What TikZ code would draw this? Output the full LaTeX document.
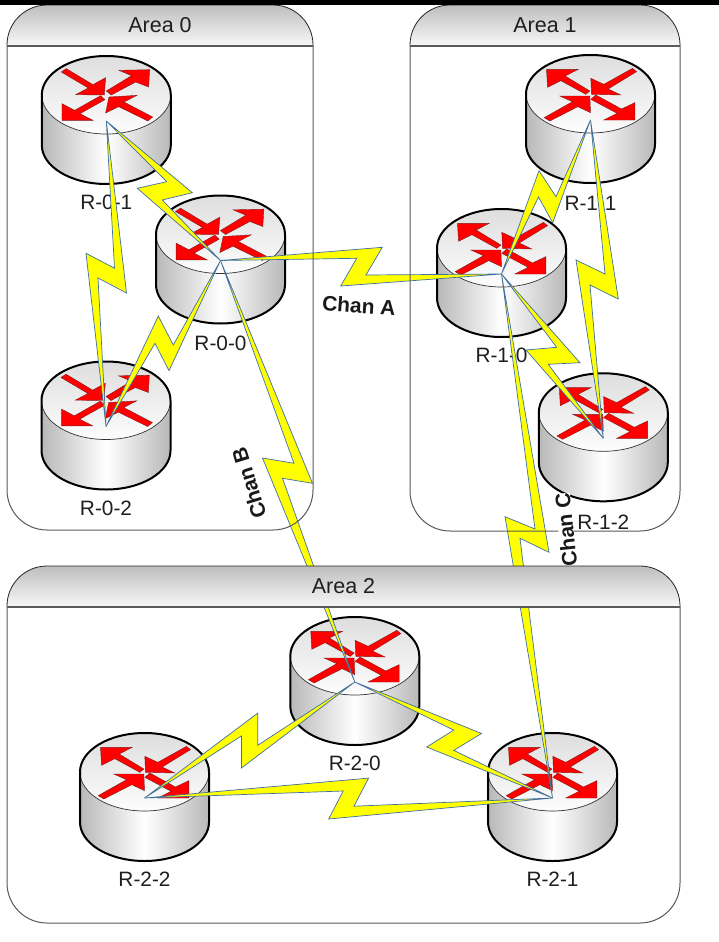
\documentclass[tikz,border=0pt]{standalone}
\usepackage{fontspec}
\setmainfont{Liberation Sans}
\definecolor{sidegray}{HTML}{B8B8B8}
\definecolor{topgray}{HTML}{DEDEDE}
\definecolor{toplight}{HTML}{FDFDFD}
\definecolor{headgray}{HTML}{BEBEBE}
\definecolor{headlight}{HTML}{F8F8F8}
\definecolor{panelline}{HTML}{5A5A5A}
\definecolor{boltline}{HTML}{3F6FA5}
\definecolor{boltfill}{HTML}{FFFF00}
\definecolor{arrowred}{HTML}{FF0000}
\definecolor{arrowline}{HTML}{7A2020}
\tikzset{
  bolt/.style={draw=boltline,fill=boltfill,line width=0.7pt,line join=miter},
  routerarrow/.style={draw=arrowline,fill=arrowred,line width=0.4pt},
  routerlabel/.style={font=\fontsize{20.8}{24}\selectfont,text=black!88,inner sep=0pt},
  panellabel/.style={font=\fontsize{21.5}{24}\selectfont,text=black!88,inner sep=0pt},
  chanlabel/.style={font=\bfseries\fontsize{21}{24}\selectfont,text=black!90,inner sep=0pt}
}
\newcommand{\arrowsA}{%
  \begin{scope}[x=.3333pt,y=-.3333pt,shift={(-320,-362)}]
    \draw[routerarrow] (200,205)--(280,253)--(318,232)--(314,284)--(228,283)--(266,263)--(185,215)--cycle;
    \draw[routerarrow] (320,272)--(396,226)--(358,210)--(450,208)--(447,260)--(408,245)--(335,284)--cycle;
    \draw[routerarrow] (303,286)--(225,330)--(187,310)--(187,360)--(280,360)--(241,340)--(316,298)--cycle;
    \draw[routerarrow] (459,350)--(373,305)--(412,285)--(328,290)--(318,338)--(357,319)--(445,362)--cycle;
  \end{scope}}
\newcommand{\arrowsB}{%
  \begin{scope}[x=.3333pt,y=-.3333pt,shift={(-332,-240)}]
    \draw[routerarrow] (330,153)--(256,108)--(295,88)--(200,88)--(203,142)--(243,122)--(318,163)--cycle;
    \draw[routerarrow] (458,85)--(372,133)--(333,115)--(335,163)--(423,165)--(385,147)--(470,95)--cycle;
    \draw[routerarrow] (193,233)--(278,185)--(240,168)--(330,168)--(332,218)--(294,200)--(210,243)--cycle;
    \draw[routerarrow] (348,165)--(425,207)--(465,188)--(465,240)--(372,240)--(412,220)--(333,178)--cycle;
  \end{scope}}
\newcommand{\routerdrum}[6]{%
  \coordinate (#1) at (#2,#3);
  \begin{scope}[shift={(#1)}]
    \shade[left color=sidegray,right color=sidegray,middle color=white]
      (-64.5,-26) -- (-64.5,24) arc[start angle=180,end angle=360,x radius=64.5pt,y radius=39pt]
      -- (64.5,-26) arc[start angle=0,end angle=180,x radius=64.5pt,y radius=39pt] -- cycle;
    \draw[draw=black!80,line width=0.7pt,top color=topgray,bottom color=toplight]
      (0,-26) ellipse[x radius=64.5pt,y radius=39pt];
    \draw[line width=2pt]
      (-64.5,-26) -- (-64.5,24) arc[start angle=180,end angle=360,x radius=64.5pt,y radius=39pt]
      -- (64.5,-26) arc[start angle=0,end angle=180,x radius=64.5pt,y radius=39pt] -- cycle;
    #6
    \node[routerlabel] (#1label) at (0,#5) {#4};
  \end{scope}}
\newcommand{\areapanel}[7]{%
  \pgfmathsetmacro{\xa}{#2+40}\pgfmathsetmacro{\xb}{#3-40}
  \pgfmathsetmacro{\ya}{#4+40}\pgfmathsetmacro{\yb}{#6-40}
  \pgfmathsetmacro{\xm}{(#2+#3)/2}\pgfmathsetmacro{\ym}{(#4+#5)/2}
  \shade[top color=headgray,bottom color=headlight]
    (#2,#5) -- (#2,\ya) arc[start angle=180,end angle=90,radius=40pt]
    -- (\xb,#4) arc[start angle=90,end angle=0,radius=40pt] -- (#3,#5) -- cycle;
  \draw[line width=0.8pt,black!85]
    (#2,\ya) arc[start angle=180,end angle=90,radius=40pt]
    -- (\xb,#4) arc[start angle=90,end angle=0,radius=40pt];
  \draw[line width=1.2pt,panelline] (#2,#5) -- (#3,#5);
  \draw[line width=1pt,panelline] (#2,\ya) -- (#2,\yb)
    arc[start angle=180,end angle=270,radius=40pt] -- (\xb,#6)
    arc[start angle=270,end angle=360,radius=40pt] -- (#3,\ya);
  \node[panellabel] (#1) at (\xm,\ym) {#7};}
\begin{document}
\begin{tikzpicture}[x=1pt,y=-1pt]
\useasboundingbox (0,0) rectangle (719,942);
\fill[white] (0,0) rectangle (719,942);

\routerdrum{r01}{106.3}{121}{R-0-1}{81}{\arrowsA}
\routerdrum{r00}{220.5}{260.5}{R-0-0}{82.5}{\arrowsA}
\routerdrum{r02}{106}{426.5}{R-0-2}{81.5}{\arrowsA}
\routerdrum{r11}{590.5}{120}{R-1-1}{83}{\arrowsB}
\routerdrum{r10}{501.5}{274}{R-1-0}{81}{\arrowsB}
\routerdrum{r12}{603.3}{438.3}{R-1-2}{84}{\arrowsB}
\routerdrum{r20}{354.8}{682}{R-2-0}{81}{\arrowsB}
\routerdrum{r22}{144.5}{798}{R-2-2}{81}{\arrowsB}
\routerdrum{r21}{552.5}{798}{R-2-1}{81}{\arrowsB}

\draw[bolt] (r01)--(192.3,192.7)--(162.3,200)--(r00)--(137.3,188.3)--(166.7,181.7)--cycle;
\draw[bolt] (r01)--(126.5,293)--(98,278)--(r02)--(86,253.3)--(114.5,268.2)--cycle;
\draw[bolt] (r00)--(169,370.7)--(155,343.3)--(r02)--(158.3,316)--(173.3,345)--cycle;
\draw[bolt] (r00)--(356.7,258.3)--(340.7,286)--(r10)--(366,275)--(382.3,247.3)--cycle;
\draw[bolt] (r00)--(312.5,483.3)--(282.5,478.3)--(r20)--(262.5,458)--(294,463.3)--cycle;
\draw[bolt] (r11)--(556,196.7)--(539,170.7)--(r10)--(538.5,197)--(552.7,222.7)--cycle;
\draw[bolt] (r11)--(618.3,299)--(590,285)--(r12)--(576,260)--(605,274)--cycle;
\draw[bolt] (r10)--(580,362.7)--(548.3,364.3)--(r12)--(526,350)--(556.7,347.3)--cycle;
\draw[bolt] (r10)--(549,552.3)--(520,538.3)--(r21)--(505,516.7)--(535,529)--cycle;
\draw[bolt] (r20)--(241.5,768)--(241.5,735.9)--(r22)--(257.7,713.2)--(257.7,745.3)--cycle;
\draw[bolt] (r20)--(481.5,733.5)--(453.8,750.4)--(r21)--(426.7,747)--(453.8,730.1)--cycle;
\draw[bolt] (r22)--(368.6,778.1)--(354,806.2)--(r21)--(328.7,819)--(343.2,791)--cycle;

\areapanel{area0}{7}{313}{5}{46}{530}{Area 0}
\areapanel{area1}{410}{680}{5}{46}{531}{Area 1}

\node[chanlabel,rotate=-4] (chana) at (359,306) {Chan A};
\node[chanlabel,rotate=107] (chanb) at (249,483) {Chan B};
\node[chanlabel,rotate=96,fill=white] (chanc) at (566,530) {Chan C};

\areapanel{area2}{7}{680}{566}{607}{923}{Area 2}

\fill[black] (0,0) rectangle (719,5);
\end{tikzpicture}
\end{document}
